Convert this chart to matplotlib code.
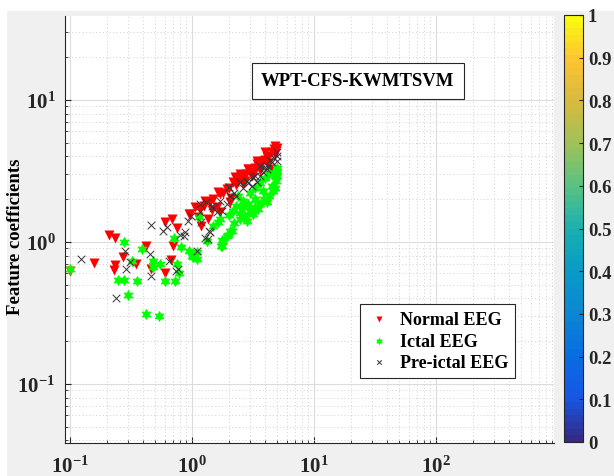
import numpy as np
import matplotlib
matplotlib.use('Agg')
import matplotlib.pyplot as plt
from matplotlib import rcParams
from matplotlib.colors import LinearSegmentedColormap, Normalize
from matplotlib.cm import ScalarMappable
from matplotlib.ticker import FuncFormatter, LogLocator
from matplotlib.patches import Rectangle

rcParams['font.family'] = 'Liberation Serif'
rcParams['font.weight'] = 'bold'
rcParams['mathtext.fontset'] = 'custom'
rcParams['mathtext.rm'] = 'Liberation Serif:bold'
rcParams['mathtext.bf'] = 'Liberation Serif:bold'

# Normal EEG
normal_x = [0.1, 0.158, 0.21, 0.235, 0.27, 0.235, 0.229, 0.35, 0.417, 0.46, 0.60, 0.60,
            0.686, 0.75, 0.695, 0.677, 0.94, 1.16, 1.36, 1.18, 1.70, 1.70, 2.05, 2.40,
            2.72, 3.18, 3.39, 4.10, 4.79, 4.36, 2.25, 2.89, 3.72, 1.40, 1.59, 1.92,
            2.47, 4.79, 3.96, 3.39, 2.89, 2.47, 2.17, 1.63, 1.28, 0.96,
            1.05, 1.25, 1.5, 1.8, 2.0, 2.3, 2.6, 2.8, 3.0, 3.3, 3.5, 3.8, 4.0, 4.3,
            4.5, 4.7, 4.9, 5.0, 3.6, 4.2, 1.12, 1.45, 2.1, 2.6, 3.1]
normal_y = [0.62, 0.71, 1.12, 1.06, 0.78, 0.69, 0.63, 0.70, 0.93, 0.64, 0.60, 1.38,
            1.45, 1.25, 0.94, 0.75, 1.57, 1.71, 1.45, 1.29, 2.18, 1.62, 1.90, 2.63,
            2.70, 3.01, 3.54, 3.95, 4.17, 3.27, 2.85, 3.27, 3.64, 1.90, 1.75, 2.36,
            3.01, 4.77, 4.28, 3.74, 3.27, 2.87, 2.65, 2.25, 1.95, 1.57,
            1.75, 1.80, 2.0, 2.2, 2.4, 2.5, 2.8, 3.0, 3.1, 3.3, 3.5, 3.7, 3.8, 4.0,
            4.3, 4.5, 4.4, 4.6, 3.2, 3.6, 1.50, 1.68, 2.05, 2.55, 2.9]

# Ictal EEG
ictal_x = [0.1, 0.279, 0.249, 0.279, 0.30, 0.324, 0.352, 0.387, 0.417, 0.48, 0.476, 0.547,
           0.54, 0.60, 0.72, 0.71, 0.81, 0.75, 0.78, 0.95, 1.0, 1.09, 1.15, 1.73, 1.78,
           1.96, 2.14, 1.64, 2.18, 2.40, 2.81, 2.89, 3.28, 3.49, 3.84, 4.10, 4.50, 4.79,
           4.95, 3.18, 2.64, 2.05, 1.92, 1.81, 1.75, 1.32, 1.09, 1.02, 2.47, 2.72,
           3.0, 3.3, 3.6, 4.0, 4.3, 4.7, 5.0, 4.9, 4.6, 4.3, 3.9, 3.6, 3.3, 3.0, 2.6,
           2.3, 2.0, 1.7, 1.5, 2.2, 2.5, 4.8, 5.0]
ictal_y = [0.645, 1.0, 0.54, 0.54, 0.42, 0.74, 0.53, 0.89, 0.31, 0.74, 0.67, 0.70,
           0.30, 0.53, 0.53, 1.06, 0.92, 0.70, 0.60, 0.87, 0.80, 0.76, 1.51, 0.93, 1.04,
           1.12, 1.20, 1.39, 1.66, 2.12, 1.41, 1.85, 2.01, 1.71, 2.30, 1.90, 2.49, 2.93,
           3.18, 1.57, 1.75, 1.20, 1.11, 1.02, 0.94, 1.02, 0.85, 0.78, 1.45, 1.53,
           2.2, 2.4, 2.6, 2.8, 3.0, 3.1, 3.3, 2.7, 2.3, 2.1, 2.0, 1.85, 1.75, 1.65, 1.95,
           1.8, 1.55, 1.45, 1.3, 1.35, 1.6, 2.4, 2.9]

# Pre-ictal EEG
pre_x = [0.123, 0.24, 0.28, 0.288, 0.31, 0.46, 0.58, 0.62, 0.45, 0.46, 0.65, 0.74,
         0.77, 0.80, 0.865, 1.09, 0.93, 0.975, 1.18, 1.39, 1.28, 1.30, 1.78, 1.92,
         2.02, 2.47, 2.81, 3.39, 3.61, 4.10, 4.50, 4.95, 3.08, 2.28, 1.59, 1.16, 1.50,
         4.95, 3.61, 3.18, 2.05, 1.45, 1.16, 0.88, 1.40, 1.36,
         2.6, 2.9, 3.3, 3.8, 4.2, 4.7, 5.0, 4.4, 3.9, 2.2, 1.7]
pre_y = [0.76, 0.40, 0.87, 0.65, 0.72, 1.32, 1.20, 1.28, 0.82, 0.58, 0.73, 0.62,
         0.65, 1.12, 1.10, 0.87, 1.41, 1.53, 1.38, 1.20, 1.06, 1.90, 1.66, 1.85,
         2.43, 2.63, 2.70, 2.63, 2.93, 3.27, 3.64, 4.05, 2.49, 2.12, 1.62, 1.85, 1.73,
         3.74, 3.45, 2.85, 2.12, 1.80, 1.62, 1.17, 1.18, 1.05,
         2.4, 2.6, 2.9, 3.1, 3.4, 3.9, 4.3, 3.8, 3.3, 2.2, 1.95]

legend_labels = ['Normal EEG', 'Ictal EEG', 'Pre-ictal EEG']
cbar_ticks = [0, 0.1, 0.2, 0.3, 0.4, 0.5, 0.6, 0.7, 0.8, 0.9, 1]
cbar_labels = ['0', '0.1', '0.2', '0.3', '0.4', '0.5', '0.6', '0.7', '0.8', '0.9', '1']

# parula-like colormap
parula_pts = [(0.2081, 0.1663, 0.5292), (0.0900, 0.3400, 0.9000), (0.0300, 0.4300, 0.8800),
              (0.0500, 0.5300, 0.8300), (0.0300, 0.6100, 0.7800), (0.1000, 0.6900, 0.6900),
              (0.3500, 0.7600, 0.5100), (0.6200, 0.7600, 0.3500), (0.8400, 0.7300, 0.2500),
              (0.9900, 0.7650, 0.2000), (0.9763, 0.9831, 0.0538)]
parula = LinearSegmentedColormap.from_list('parula', parula_pts, N=64)

fig = plt.figure(figsize=(6.14, 4.77), dpi=100, facecolor='white')
fig.patches.append(Rectangle((7 / 614, 0), 1, 1 - 12 / 477, transform=fig.transFigure,
                             facecolor='#f0f0f0', edgecolor='none', zorder=-10))

ax = fig.add_axes([65 / 614, 33 / 477, 489 / 614, 427 / 477])
ax.set_facecolor('white')
ax.set_xscale('log')
ax.set_yscale('log')

ax.scatter(normal_x, normal_y, marker='v', s=52, color='#ff0000', linewidths=0,
           label=legend_labels[0], zorder=3)
ax.scatter(ictal_x, ictal_y, marker=(6, 1, 0), s=48, color='#00ff00', linewidths=0.8,
           edgecolors='#00ff00', label=legend_labels[1], zorder=3)
ax.scatter(pre_x, pre_y, marker='x', s=30, color='#333333', linewidths=0.7,
           label=legend_labels[2], zorder=4)

ax.set_xlim(0.091, 930)
ax.set_ylim(0.0384, 39)

fmt = FuncFormatter(lambda v, _: r'$\mathbf{10^{%d}}$' % int(round(np.log10(v))))
ax.xaxis.set_major_locator(LogLocator(base=10, numticks=10))
ax.yaxis.set_major_locator(LogLocator(base=10, numticks=10))
ax.xaxis.set_major_formatter(fmt)
ax.yaxis.set_major_formatter(fmt)
ax.tick_params(which='both', direction='in', labelsize=15, colors='#262626')
ax.tick_params(which='major', length=4)
ax.tick_params(which='minor', length=2)
ax.tick_params(axis='x', pad=9)
ax.tick_params(axis='y', pad=7)

ax.grid(True, which='major', color='#dcdcdc', linewidth=0.8, linestyle='-')
ax.grid(True, which='minor', color='#d0d0d0', linewidth=0.7, linestyle=(0, (1, 2.5)))
ax.set_axisbelow(True)
for side in ['top', 'right']:
    ax.spines[side].set_visible(False)
for side in ['left', 'bottom']:
    ax.spines[side].set_color('#262626')
    ax.spines[side].set_linewidth(0.8)

ax.set_ylabel('Feature coefficients', fontsize=13.5, fontweight='bold')
ax.yaxis.set_label_coords(-0.083, 0.486)

ax.text(0.599, 0.848, 'WPT-CFS-KWMTSVM', transform=ax.transAxes, ha='center', va='center',
        fontsize=13.5, fontweight='bold',
        bbox=dict(boxstyle='square,pad=0.5', facecolor='white', edgecolor='#262626',
                  linewidth=0.8))

leg = ax.legend(loc='upper left', bbox_to_anchor=(0.603, 0.326), borderaxespad=0,
                fancybox=False, framealpha=1, edgecolor='#262626', fontsize=13,
                handletextpad=0.5, labelspacing=0.25, borderpad=0.4, markerscale=0.6,
                handlelength=1.3)
leg.get_frame().set_linewidth(0.8)

cax = fig.add_axes([564 / 614, 34 / 477, 19 / 614, 427 / 477])
cb = fig.colorbar(ScalarMappable(norm=Normalize(0, 1), cmap=parula), cax=cax)
cb.set_ticks(cbar_ticks)
cb.set_ticklabels(cbar_labels)
cax.tick_params(direction='in', length=3, labelsize=13.5, colors='#262626')
cb.outline.set_edgecolor('#262626')
cb.outline.set_linewidth(0.8)

fig.savefig('out.png', dpi=100)
